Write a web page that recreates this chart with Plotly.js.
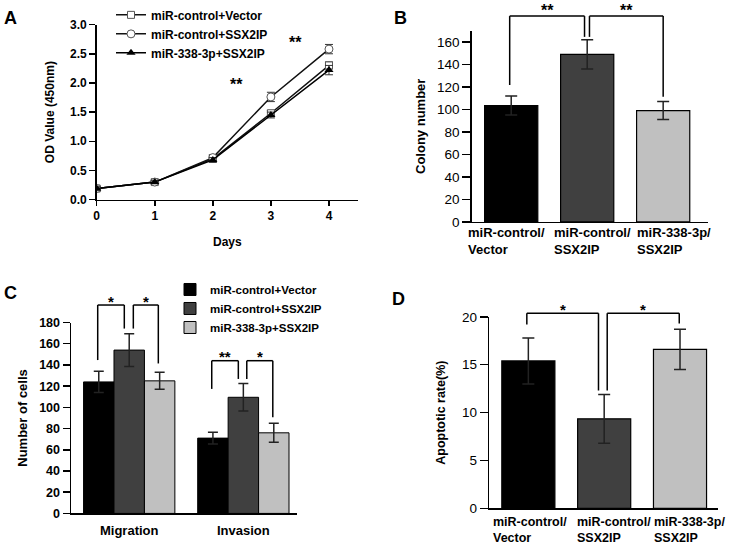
<!DOCTYPE html>
<html><head><meta charset="utf-8">
<script src="https://cdn.plot.ly/plotly-3.0.1.min.js"></script>
<style>body{margin:0;background:#fff;} #chart{width:736px;height:546px;}</style>
</head><body><div id="chart"></div>
<script>
// ---------- Panel A: CCK-8 growth curve ----------
const days = [0, 1, 2, 3, 4];
const seriesNamesA = ['miR-control+Vector', 'miR-control+SSX2IP', 'miR-338-3p+SSX2IP'];
const odVector = [0.19, 0.30, 0.70, 1.48, 2.30];
const odVectorErr = [0.03, 0.03, 0.05, 0.05, 0.06];
const odSSX2IP = [0.19, 0.30, 0.72, 1.76, 2.58];
const odSSX2IPErr = [0.03, 0.03, 0.05, 0.08, 0.08];
const od338 = [0.19, 0.30, 0.68, 1.45, 2.22];
const od338Err = [0.03, 0.03, 0.04, 0.05, 0.08];

// ---------- Panel B: colony formation ----------
const groups = ['miR-control/Vector', 'miR-control/SSX2IP', 'miR-338-3p/SSX2IP'];
const groupLabels = ['miR-control/<br>Vector', 'miR-control/<br>SSX2IP', 'miR-338-3p/<br>SSX2IP'];
const colonyNumber = [103.5, 149, 99];
const colonyErr = [8.5, 13, 8];

// ---------- Panel C: migration / invasion ----------
const assays = ['Migration', 'Invasion'];
const cellsVector = [124, 71];
const cellsVectorErr = [10, 5.5];
const cellsSSX2IP = [154, 109.5];
const cellsSSX2IPErr = [15.5, 13];
const cells338 = [125, 76];
const cells338Err = [8, 9];

// ---------- Panel D: apoptosis ----------
const apoptoticRate = [15.4, 9.35, 16.6];
const apoptoticErr = [2.4, 2.55, 2.1];

// significance brackets (data units: x = category position, y = value)
const bracketsB = [
  {x0: -0.02, x1: 0.965, y0: 121.7, y1: 164.5, top: 183, label: '**'},
  {x0: 1.03, x1: 2.0, y0: 164.5, y1: 111.3, top: 183, label: '**'}
];
const bracketsC = [
  {x0: -0.276, x1: -0.043, y0: 144.6, y1: 174.3, top: 196.5, label: '*'},
  {x0: 0.036, x1: 0.255, y0: 174.3, y1: 141.4, top: 196.5, label: '*'},
  {x0: 0.723, x1: 0.956, y0: 117.4, y1: 126.8, top: 144, label: '**'},
  {x0: 1.03, x1: 1.258, y0: 126.8, y1: 90.7, top: 144, label: '*'}
];
const bracketsD = [
  {x0: -0.02, x1: 0.925, y0: 19.2, y1: 12.3, top: 20.37, label: '*'},
  {x0: 1.04, x1: 1.99, y0: 12.3, y1: 19.3, top: 20.37, label: '*'}
];
const starsA = [
  {x: 2.41, y: 1.97, label: '**'},
  {x: 3.43, y: 2.69, label: '**'}
];

// ---------- layout geometry ----------
const W = 736, H = 546;
const FONT = 'Liberation Sans, Arial, Helvetica, sans-serif';
const geo = {
  A: {x: [96.7, 358], y: [22.7, 198.3], xr: [0, 4.5], yr: [0, 3]},
  B: {x: [471.7, 708], y: [28.8, 220.7], xr: [-0.52, 2.59], yr: [0, 170]},
  C: {x: [71, 297], y: [321.7, 513.3], xr: [-0.51, 1.47], yr: [0, 180]},
  D: {x: [489.3, 718.3], y: [316, 508.3], xr: [-0.515, 2.505], yr: [0, 20]}
};
const xdom = g => [g.x[0] / W, g.x[1] / W];
const ydom = g => [1 - g.y[1] / H, 1 - g.y[0] / H];
function yPaper(g, v) {
  const px = g.y[1] - (v - g.yr[0]) / (g.yr[1] - g.yr[0]) * (g.y[1] - g.y[0]);
  return 1 - px / H;
}
const pxPaperY = px => 1 - px / H;

const cBlack = '#000000', cDark = '#404040', cLight = '#c0c0c0';
const bold = (s) => ({family: FONT, size: s, color: '#000', weight: 'bold'});
const reg = (s) => ({family: FONT, size: s, color: '#000'});

function axBase(extra) {
  return Object.assign({
    showline: true, linecolor: '#000', linewidth: 1.5, ticks: 'outside',
    tickcolor: '#000', tickwidth: 1.5, showgrid: false, zeroline: false,
    fixedrange: true, automargin: false
  }, extra);
}

// ---------- traces ----------
const errA = (arr) => ({type: 'data', array: arr, visible: true, color: '#333', thickness: 1, width: 4});
const traces = [
  {type: 'scatter', mode: 'lines+markers', x: days, y: odVector, name: seriesNamesA[0],
   xaxis: 'x', yaxis: 'y', legend: 'legend', error_y: errA(odVectorErr),
   line: {color: '#111', width: 1.5},
   marker: {symbol: 'square', size: 7, color: '#fff', line: {color: '#555', width: 1}}},
  {type: 'scatter', mode: 'lines+markers', x: days, y: odSSX2IP, name: seriesNamesA[1],
   xaxis: 'x', yaxis: 'y', legend: 'legend', error_y: errA(odSSX2IPErr),
   line: {color: '#111', width: 1.5},
   marker: {symbol: 'circle', size: 8, color: '#fff', line: {color: '#555', width: 1}}},
  {type: 'scatter', mode: 'lines+markers', x: days, y: od338, name: seriesNamesA[2],
   xaxis: 'x', yaxis: 'y', legend: 'legend', error_y: errA(od338Err),
   line: {color: '#000', width: 1.5},
   marker: {symbol: 'triangle-up', size: 8, color: '#000'}},

  {type: 'bar', x: groups, y: colonyNumber, xaxis: 'x2', yaxis: 'y2', width: 0.7, showlegend: false,
   marker: {color: [cBlack, cDark, cLight], line: {color: '#000', width: 1.2}},
   error_y: {type: 'data', array: colonyErr, color: '#222', thickness: 1.5, width: 6}},

  {type: 'bar', x: assays, y: cellsVector, name: seriesNamesA[0], xaxis: 'x3', yaxis: 'y3', legend: 'legend2',
   marker: {color: cBlack, line: {color: '#000', width: 1}},
   error_y: {type: 'data', array: cellsVectorErr, color: '#222', thickness: 1.5, width: 5}},
  {type: 'bar', x: assays, y: cellsSSX2IP, name: seriesNamesA[1], xaxis: 'x3', yaxis: 'y3', legend: 'legend2',
   marker: {color: cDark, line: {color: '#000', width: 1}},
   error_y: {type: 'data', array: cellsSSX2IPErr, color: '#222', thickness: 1.5, width: 5}},
  {type: 'bar', x: assays, y: cells338, name: seriesNamesA[2], xaxis: 'x3', yaxis: 'y3', legend: 'legend2',
   marker: {color: cLight, line: {color: '#000', width: 1}},
   error_y: {type: 'data', array: cells338Err, color: '#222', thickness: 1.5, width: 5}},

  {type: 'bar', x: groups, y: apoptoticRate, xaxis: 'x4', yaxis: 'y4', width: 0.7, showlegend: false,
   marker: {color: [cBlack, cDark, cLight], line: {color: '#000', width: 1.2}},
   error_y: {type: 'data', array: apoptoticErr, color: '#222', thickness: 1.5, width: 6}}
];

// ---------- shapes & annotations ----------
const shapes = [];
const annotations = [];
function addBrackets(list, g, xref, starSize, yshift) {
  list.forEach(b => {
    const line = {type: 'line', xref: xref, yref: 'paper', line: {color: '#000', width: 1.5}};
    shapes.push(Object.assign({}, line, {x0: b.x0, x1: b.x1, y0: yPaper(g, b.top), y1: yPaper(g, b.top)}));
    shapes.push(Object.assign({}, line, {x0: b.x0, x1: b.x0, y0: yPaper(g, b.top), y1: yPaper(g, b.y0)}));
    shapes.push(Object.assign({}, line, {x0: b.x1, x1: b.x1, y0: yPaper(g, b.top), y1: yPaper(g, b.y1)}));
    annotations.push({text: b.label, xref: xref, yref: 'paper', x: (b.x0 + b.x1) / 2, y: yPaper(g, b.top),
      yanchor: 'middle', xanchor: 'center', yshift: yshift, showarrow: false, font: bold(starSize)});
  });
}
addBrackets(bracketsB, geo.B, 'x2', 16, 6);
addBrackets(bracketsC, geo.C, 'x3', 15, 4);
addBrackets(bracketsD, geo.D, 'x4', 15, 4);
starsA.forEach(s => annotations.push({text: s.label, xref: 'x', yref: 'y', x: s.x, y: s.y,
  showarrow: false, font: bold(16)}));

// category labels (two-line, left aligned) for B and D
const shiftB = [-4.5, 5.5, 10.5], shiftD = [1.5, 9.8, 9.4];
groupLabels.forEach((t, i) => {
  annotations.push({text: t, xref: 'x2', yref: 'paper', x: i, y: pxPaperY(239.5), xanchor: 'center',
    yanchor: 'middle', align: 'left', xshift: shiftB[i], showarrow: false, font: bold(13)});
  annotations.push({text: t, xref: 'x4', yref: 'paper', x: i, y: pxPaperY(530), xanchor: 'center',
    yanchor: 'middle', align: 'left', xshift: shiftD[i], showarrow: false, font: bold(12.5)});
});

// panel letters
[['A', 10, 16], ['B', 400, 16], ['C', 10, 292], ['D', 398, 298]].forEach(p => {
  annotations.push({text: p[0], xref: 'paper', yref: 'paper', x: p[1] / W, y: pxPaperY(p[2]),
    xanchor: 'center', yanchor: 'middle', showarrow: false, font: bold(18)});
});

const layout = {
  width: W, height: H, margin: {l: 0, r: 0, t: 0, b: 0},
  paper_bgcolor: '#fff', plot_bgcolor: 'rgba(0,0,0,0)',
  font: {family: FONT, color: '#000'},
  barmode: 'group', bargap: 0.2, bargroupgap: 0,
  hovermode: false,
  xaxis: axBase({domain: xdom(geo.A), anchor: 'y', range: geo.A.xr, tickvals: days, ticklen: 5,
    tickfont: bold(12), title: {text: 'Days', font: bold(12), standoff: 15}}),
  yaxis: axBase({domain: ydom(geo.A), anchor: 'x', range: geo.A.yr, dtick: 0.5, tickformat: '.1f', ticklen: 6,
    tickfont: bold(12), title: {text: 'OD Value (450nm)', font: bold(12), standoff: 13}}),
  xaxis2: axBase({domain: xdom(geo.B), anchor: 'y2', range: geo.B.xr, type: 'category', ticks: '',
    showticklabels: false}),
  yaxis2: axBase({domain: ydom(geo.B), anchor: 'x2', range: geo.B.yr, dtick: 20, ticklen: 8,
    tickfont: reg(13.5), title: {text: 'Colony number', font: bold(13), standoff: 8}}),
  xaxis3: axBase({domain: xdom(geo.C), anchor: 'y3', range: geo.C.xr, type: 'category', ticks: '',
    tickfont: bold(13), ticklabelstandoff: 4}),
  yaxis3: axBase({domain: ydom(geo.C), anchor: 'x3', range: geo.C.yr, dtick: 20, ticklen: 7,
    tickfont: bold(12.5), title: {text: 'Number of cells', font: bold(13), standoff: 8}}),
  xaxis4: axBase({domain: xdom(geo.D), anchor: 'y4', range: geo.D.xr, type: 'category', ticks: '',
    showticklabels: false}),
  yaxis4: axBase({domain: ydom(geo.D), anchor: 'x4', range: geo.D.yr, dtick: 5, ticklen: 8,
    tickfont: reg(13.5), title: {text: 'Apoptotic rate(%)', font: bold(12.5), standoff: 13}}),
  legend: {x: 111 / W, y: 1.003, xanchor: 'left', yanchor: 'top', bgcolor: 'rgba(0,0,0,0)',
    font: bold(12), borderwidth: 0, tracegroupgap: 0},
  legend2: {x: 170 / W, y: pxPaperY(274), xanchor: 'left', yanchor: 'top', bgcolor: 'rgba(0,0,0,0)',
    font: bold(11.5), borderwidth: 0, tracegroupgap: 0},
  shapes: shapes,
  annotations: annotations
};

Plotly.newPlot('chart', traces, layout, {staticPlot: true, displayModeBar: false});
</script>
</body></html>
